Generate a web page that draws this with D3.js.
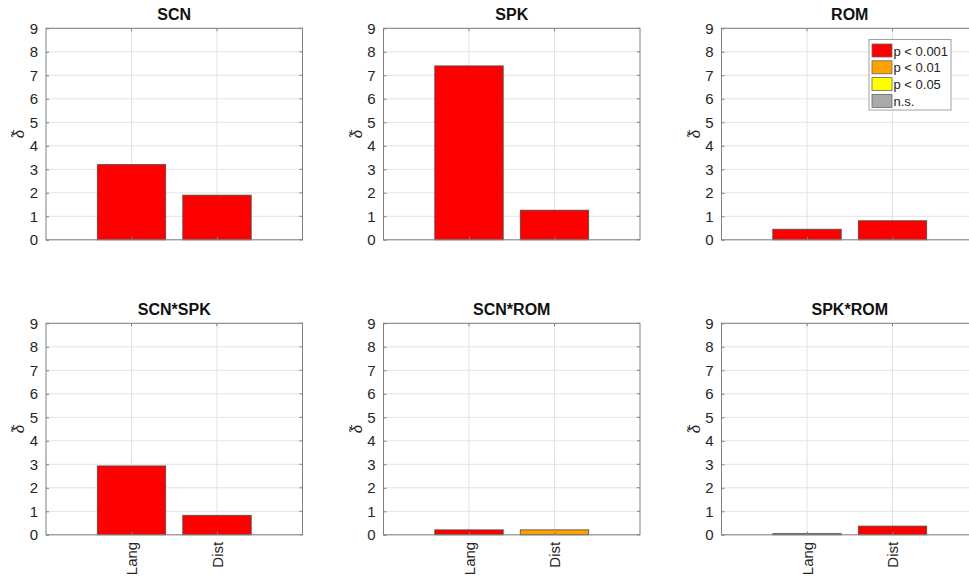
<!DOCTYPE html>
<html>
<head>
<meta charset="utf-8">
<script src="https://cdn.jsdelivr.net/npm/d3@7/dist/d3.min.js"></script>
<style>
  html, body { margin: 0; padding: 0; background: #fff; overflow: hidden; }
  svg { display: block; }
  text { font-family: "Liberation Sans", Arial, sans-serif; }
</style>
</head>
<body>
<svg id="chart" width="969" height="576"></svg>
<script>
// Effect sizes per factor, split by measure
const panels = ["SCN", "SPK", "ROM", "SCN*SPK", "SCN*ROM", "SPK*ROM"];
const categories = ["Lang", "Dist"];
const langValues = [3.2, 7.4, 0.45, 2.93, 0.21, 0.05];
const distValues = [1.9, 1.26, 0.81, 0.83, 0.21, 0.37];
const langSig = ["p < 0.001", "p < 0.001", "p < 0.001", "p < 0.001", "p < 0.001", "n.s."];
const distSig = ["p < 0.001", "p < 0.001", "p < 0.001", "p < 0.001", "p < 0.01", "p < 0.001"];
const sigLevels = ["p < 0.001", "p < 0.01", "p < 0.05", "n.s."];
const sigColors = ["#ff0000", "#ffa200", "#ffff00", "#aaaaaa"];
const yTicks = [0, 1, 2, 3, 4, 5, 6, 7, 8, 9];

const svg = d3.select("#chart");
const colLeft = [46, 383.5, 721.5];
const rowTop = [28.3, 323.3];
const axW = 256.5, axH = 211.5;
const color = d3.scaleOrdinal().domain(sigLevels).range(sigColors);
const tickFont = 15;

panels.forEach((name, i) => {
  const col = i % 3, row = Math.floor(i / 3);
  const g = svg.append("g").attr("transform", `translate(${colLeft[col]},${rowTop[row]})`);
  const x = d3.scaleLinear().domain([0, 3]).range([0, axW]);
  const y = d3.scaleLinear().domain([0, 9]).range([axH, 0]);

  // grid
  g.append("g").selectAll("line.h").data(yTicks).join("line")
    .attr("x1", 0).attr("x2", axW).attr("y1", d => y(d)).attr("y2", d => y(d))
    .attr("stroke", "#e3e3e3").attr("stroke-width", 1);
  g.append("g").selectAll("line.v").data([1, 2]).join("line")
    .attr("x1", d => x(d)).attr("x2", d => x(d)).attr("y1", 0).attr("y2", axH)
    .attr("stroke", "#e3e3e3").attr("stroke-width", 1);

  // bars
  const vals = [langValues[i], distValues[i]];
  const sigs = [langSig[i], distSig[i]];
  const bw = x(0.8) - x(0);
  g.append("g").selectAll("rect").data(vals).join("rect")
    .attr("x", (d, k) => x(k + 1) - bw / 2)
    .attr("y", d => y(d))
    .attr("width", bw)
    .attr("height", d => y(0) - y(d))
    .attr("fill", (d, k) => color(sigs[k]))
    .attr("stroke", "#4a4a4a").attr("stroke-width", 0.8);

  // y axis with ticks pointing inward
  const yAxis = g.append("g").call(d3.axisLeft(y).tickValues(yTicks).tickSize(-3).tickPadding(8));
  yAxis.select(".domain").remove();
  yAxis.selectAll("line").attr("stroke", "#808080");
  yAxis.selectAll("text").attr("font-size", tickFont).attr("fill", "#262626")
    .attr("font-family", "Liberation Sans, Arial, sans-serif");
  // right-side ticks
  g.append("g").selectAll("line").data(yTicks).join("line")
    .attr("x1", axW - 3).attr("x2", axW).attr("y1", d => y(d)).attr("y2", d => y(d))
    .attr("stroke", "#808080");

  // x axis ticks (bottom row carries labels)
  const xAxis = g.append("g").attr("transform", `translate(0,${axH})`)
    .call(d3.axisBottom(x).tickValues([1, 2]).tickSize(-3)
      .tickFormat(row === 1 ? (d => categories[d - 1]) : () => ""));
  xAxis.select(".domain").remove();
  xAxis.selectAll("line").attr("stroke", "#808080");
  xAxis.selectAll("text")
    .attr("font-size", tickFont).attr("fill", "#262626")
    .attr("font-family", "Liberation Sans, Arial, sans-serif")
    .attr("transform", "rotate(-90)")
    .attr("text-anchor", "end")
    .attr("x", -7).attr("y", 0).attr("dy", "0.35em");
  g.append("g").selectAll("line").data([1, 2]).join("line")
    .attr("x1", d => x(d)).attr("x2", d => x(d)).attr("y1", 0).attr("y2", 3)
    .attr("stroke", "#808080");

  // axes box
  g.append("rect").attr("x", 0).attr("y", 0).attr("width", axW).attr("height", axH)
    .attr("fill", "none").attr("stroke", "#808080").attr("stroke-width", 1);

  // title
  g.append("text").attr("x", axW / 2).attr("y", -8)
    .attr("text-anchor", "middle").attr("font-size", 16).attr("font-weight", "bold")
    .attr("fill", "#111").text(name);

  // y label: delta with tilde accent
  g.append("text")
    .attr("transform", `translate(-22,${axH / 2}) rotate(-90)`)
    .attr("text-anchor", "middle")
    .attr("font-family", "DejaVu Serif, serif").attr("font-style", "italic")
    .attr("font-size", 15).attr("fill", "#262626")
    .text("\u03B4\u0303");
});

// legend in the ROM panel
const leg = svg.append("g").attr("transform", "translate(869,39.5)");
leg.append("rect").attr("width", 82).attr("height", 70.5)
  .attr("fill", "#fff").attr("stroke", "#a0a0a0").attr("stroke-width", 1);
sigLevels.forEach((lvl, k) => {
  const row = leg.append("g").attr("transform", `translate(3,${4.5 + k * 16.8})`);
  row.append("rect").attr("width", 20).attr("height", 13)
    .attr("fill", sigColors[k]).attr("stroke", "#666").attr("stroke-width", 0.8);
  row.append("text").attr("x", 21.5).attr("y", 11.5).attr("font-size", 13)
    .attr("fill", "#222").text(lvl);
});
</script>
</body>
</html>
